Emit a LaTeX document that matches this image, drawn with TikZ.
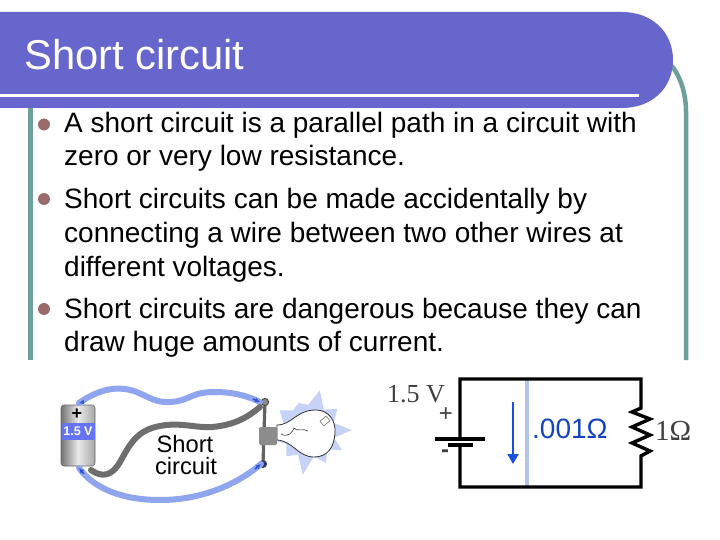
\documentclass[tikz,border=0pt]{standalone}
\usepackage{fontspec}
\setmainfont{Liberation Sans}
\newfontfamily\serifface{Liberation Serif}
\usetikzlibrary{arrows.meta}
\definecolor{headblue}{HTML}{6666CC}
\definecolor{frameteal}{HTML}{6F9F9B}
\definecolor{bulletbrown}{HTML}{996B6B}
\definecolor{wireblue}{HTML}{8FA6EE}
\definecolor{wireedge}{HTML}{2F55D8}
\definecolor{shortgrey}{HTML}{6E6E6E}
\definecolor{arrowblue}{HTML}{1A50E0}
\definecolor{shuntblue}{HTML}{B3C3EE}
\definecolor{flare}{HTML}{C6D2F6}
\definecolor{sockgrey}{HTML}{8C8C8C}
\tikzset{
 bodytext/.style={anchor=base west,inner sep=0pt,font=\fontsize{28}{30}\selectfont,text=black},
 bulletdot/.style={circle,fill=bulletbrown,inner sep=0pt,minimum size=12pt},
 bluewire/.style={draw=wireblue,line width=6pt,line cap=round},
 cwire/.style={draw=black,line width=3.4pt,line cap=rect,line join=miter},
 cap1/.style={inner sep=0pt,anchor=base},
}
\begin{document}
\begin{tikzpicture}[x=1pt,y=-1pt]
\useasboundingbox (0,0) rectangle (720,540);
\fill[white] (0,0) rectangle (720,540);
% frame
\coordinate (fl0) at (30.5,100); \coordinate (fl1) at (30.5,360);
\coordinate (fr0) at (672,66); \coordinate (fr1) at (686,112); \coordinate (fr2) at (686,360);
\draw[frameteal,line width=4.5pt] (fl0) -- (fl1);
\draw[frameteal,line width=4.5pt] (fr0) .. controls (681,78) and (686,94) .. (fr1) -- (fr2);
% header
\fill[headblue] (0,12) -- (622,12) .. controls (652,12) and (673,32) .. (673,60) .. controls (673,88) and (652,108) .. (622,108) -- (0,108) -- cycle;
\fill[white] (0,94.5) rectangle (639,97.5);
\node[anchor=base west,inner sep=0pt,text=white,font=\fontsize{41.7}{42}\selectfont] (title) at (24,70) {Short circuit};
% bullets
\node[bulletdot] (b1) at (44,124.5) {};
\node[bulletdot] (b2) at (44,199) {};
\node[bulletdot] (b3) at (44,309) {};
\node[bodytext] (l1) at (64,133) {A short circuit is a parallel path in a circuit with};
\node[bodytext] (l2) at (64,166) {zero or very low resistance.};
\node[bodytext] (l3) at (64,208.5) {Short circuits can be made accidentally by};
\node[bodytext] (l4) at (64,242) {connecting a wire between two other wires at};
\node[bodytext] (l5) at (64,276) {different voltages.};
\node[bodytext] (l6) at (64,318) {Short circuits are dangerous because they can};
\node[bodytext] (l7) at (64,351) {draw huge amounts of current.};
% starburst
\fill[flare] (352,430)
 \foreach \a/\r in {15/26,30/38,45/26,62/36,80/26,98/44,115/26,132/34,150/26,165/36,180/28,195/26,215/36,232/26,250/30,268/26,285/42,305/26,322/36,342/26}{ -- ({309+\r*cos(\a)},{431+\r*sin(\a)}) } -- cycle;
% bulb
\coordinate (bb0) at (277,425); \coordinate (bb1) at (277,440);
\draw[fill=white,draw=black!80,line width=0.8pt] (bb0) .. controls (292,425) and (296,410) .. (316,410)
 .. controls (328,410) and (336,420) .. (335,433) .. controls (334,447) and (328,457) .. (314,457)
 .. controls (298,457) and (293,441) .. (bb1) -- cycle;
\draw[black!70,line width=0.7pt] (281,434) .. controls (288,438) and (293,432) .. (294,428) .. controls (296,432) and (304,428) .. (308,431);
\draw[black!55,fill=white,line width=0.6pt,rotate around={40:(325,421)}] (321,418) rectangle (329,424);
% socket
\coordinate (st) at (265,402); \coordinate (sb) at (263,464);
\draw[sockgrey!70!black,line width=3.2pt] (st) -- (sb);
\draw[black!70,fill=sockgrey,line width=1pt] (st) circle (3.6);
\draw[black!70,fill=wireedge!60!black,line width=1pt] (sb) circle (3.6);
\fill[sockgrey,rounded corners=1.5pt] (259,427) rectangle (277,445);
% battery
\node[draw=black!60,line width=0.6pt,left color=black!55,right color=black!35,middle color=black!8,rounded corners=3pt,minimum width=34pt,minimum height=61pt,inner sep=0pt] (cell) at (78,435.5) {};
\node[fill=wireblue!70!blue,minimum width=33pt,minimum height=17pt,inner sep=0pt,text=white,font=\bfseries\fontsize{12.5}{12}\selectfont] (cellv) at (78,431) {1.5 V};
\node[inner sep=0pt,font=\bfseries\fontsize{18}{18}\selectfont] (cellp) at (77,414) {+};
% wires
\coordinate (w1) at (79,403); \coordinate (w2) at (260,402);
\coordinate (w3) at (79,468); \coordinate (w4) at (261,464);
\draw[bluewire] (w1) .. controls (95,392) and (110,387) .. (125,389) .. controls (145,392) and (150,403) .. (170,402) .. controls (190,401) and (190,392) .. (215,392) .. controls (235,392) and (250,397) .. (w2);
\draw[bluewire] (w3) .. controls (95,490) and (125,500) .. (160,500) .. controls (205,500) and (240,482) .. (w4);
\draw[wireedge,line width=1.6pt,-{Latex[length=5pt,width=5pt]}] (84,402) -- (w1);
\draw[wireedge,line width=1.6pt,-{Latex[length=5pt,width=5pt]}] (253,399) -- (w2);
\draw[wireedge,line width=1.6pt,-{Latex[length=5pt,width=5pt]}] (84,474) -- (w3);
\draw[wireedge,line width=1.6pt,-{Latex[length=5pt,width=5pt]}] (255,469) -- (w4);
\coordinate (g1) at (91,470); \coordinate (g2) at (260,407);
\draw[shortgrey,line width=6pt,line cap=round] (g1) .. controls (102,478) and (112,476) .. (120,462) .. controls (130,444) and (137,430) .. (160,426) .. controls (180,422) and (195,428) .. (212,427) .. controls (235,425) and (248,417) .. (g2);
\node[cap1,font=\fontsize{23.7}{24}\selectfont] (s1) at (185,452) {Short};
\node[cap1,font=\fontsize{23.7}{24}\selectfont] (s2) at (186,474) {circuit};
% circuit
\coordinate (tl) at (460,379); \coordinate (tr) at (641,379); \coordinate (br) at (641,487); \coordinate (bl) at (460,487);
\coordinate (bp) at (460,439); \coordinate (bn) at (460,445);
\coordinate (rt) at (641,408); \coordinate (rb) at (641,458);
\coordinate (pl1) at (435,439); \coordinate (pl2) at (485,439);
\coordinate (ps1) at (448,445); \coordinate (ps2) at (473,445);
\coordinate (st1) at (527,379); \coordinate (st2) at (527,487);
\coordinate (ar1) at (513,402); \coordinate (ar2) at (513,464);
\draw[shuntblue,line width=3.6pt] (st1) -- (st2);
\draw[cwire] (bp) -- (tl) -- (tr) -- (rt) -- (632,412) -- (650,419) -- (632,427) -- (650,435) -- (632,443) -- (650,451) -- (641,456) -- (rb) -- (br) -- (bl) -- (bn);
\draw[black,line width=3.4pt] (pl1) -- (pl2);
\draw[black,line width=3.4pt] (ps1) -- (ps2);
\draw[arrowblue,line width=2pt,-{Triangle[length=10pt,width=11pt]}] (ar1) -- (ar2);
\node[cap1,anchor=base west,text=arrowblue!85!black,font=\fontsize{28}{28}\selectfont] (sh) at (532,438.5) {.001\symbol{"03A9}};
\node[cap1,anchor=base west,text=black!75,font=\serifface\fontsize{29}{30}\selectfont] (rl) at (655,440) {1\symbol{"03A9}};
\node[cap1,anchor=base west,text=black!75,font=\serifface\fontsize{26}{28}\selectfont] (vl) at (387,402) {1.5 V};
\node[inner sep=0pt,text=black!75,font=\fontsize{24}{24}\selectfont] (pp) at (446,415) {+};
\node[inner sep=0pt,text=black!75,font=\bfseries\fontsize{24}{24}\selectfont] (mm) at (445,454) {-};
\end{tikzpicture}
\end{document}
